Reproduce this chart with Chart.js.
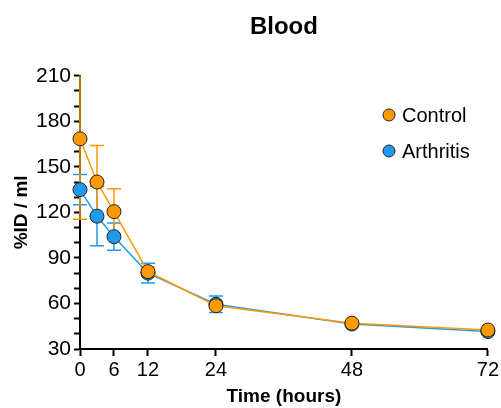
<!DOCTYPE html>
<html>
<head>
<meta charset="utf-8">
<script src="https://cdn.jsdelivr.net/npm/chart.js@4.4.1/dist/chart.umd.min.js"></script>
<style>
  html, body { margin: 0; padding: 0; background: #fff; }
  #wrap { width: 501px; height: 408px; }
</style>
</head>
<body>
<div id="wrap"><canvas id="blood" width="501" height="408"></canvas></div>
<script>
// time points (hours)
const hours = [0, 3, 6, 12, 24, 48, 72];
const xTicks = [0, 6, 12, 24, 48, 72];

// %ID / ml, mean and error (symmetric)
const controlMean = [168.5, 140, 120.5, 81, 58.5, 47, 42.5];
const controlErr  = [53, 24, 15, 3, 2, 1, 1];
const arthritisMean = [135, 117.5, 104, 80, 59.5, 46.5, 41.5];
const arthritisErr  = [10, 19.5, 9, 6.5, 5.5, 1, 1];

const ORANGE = '#FF9900';
const BLUE = '#1E9BF0';
const FONT = "'Liberation Sans', Arial, sans-serif";

const toPts = (ys) => hours.map((h, i) => ({ x: h, y: ys[i] }));

// draws vertical error bars with caps, clipped to the plot area
const errorBars = {
  id: 'errorBars',
  beforeDatasetsDraw(chart) {
    const { ctx, chartArea, scales } = chart;
    ctx.save();
    ctx.beginPath();
    ctx.rect(chartArea.left - 10, chartArea.top, chartArea.width + 20, chartArea.height);
    ctx.clip();
    chart.data.datasets.slice().reverse().forEach(ds => {
      ctx.strokeStyle = ds.borderColor;
      ctx.lineWidth = 1.5;
      ds.data.forEach((p, i) => {
        const e = ds.errors[i];
        const x = scales.x.getPixelForValue(p.x);
        const yTop = scales.y.getPixelForValue(p.y + e);
        const yBot = scales.y.getPixelForValue(p.y - e);
        ctx.beginPath();
        ctx.moveTo(x, yTop); ctx.lineTo(x, yBot);
        ctx.moveTo(x - 7, yTop); ctx.lineTo(x + 7, yTop);
        ctx.moveTo(x - 7, yBot); ctx.lineTo(x + 7, yBot);
        ctx.stroke();
      });
    });
    ctx.restore();
  }
};

// legend inside the plot, top right, stacked
const sideLegend = {
  id: 'sideLegend',
  afterDraw(chart) {
    const { ctx } = chart;
    ctx.save();
    ctx.font = '20px ' + FONT;
    ctx.textBaseline = 'middle';
    chart.data.datasets.forEach((ds, i) => {
      const y = 115 + i * 36;
      ctx.beginPath();
      ctx.arc(389, y, 6, 0, Math.PI * 2);
      ctx.fillStyle = ds.pointBackgroundColor;
      ctx.fill();
      ctx.lineWidth = 1;
      ctx.strokeStyle = '#222';
      ctx.stroke();
      ctx.fillStyle = '#000';
      ctx.fillText(ds.label, 402, y + 1);
    });
    ctx.restore();
  }
};

new Chart(document.getElementById('blood'), {
  type: 'scatter',
  data: {
    datasets: [
      {
        label: 'Control', data: toPts(controlMean), errors: controlErr,
        showLine: true, clip: false, borderColor: ORANGE, borderWidth: 1.5,
        pointBackgroundColor: ORANGE, pointBorderColor: '#222', pointBorderWidth: 1,
        pointRadius: 7, pointHoverRadius: 7,
      },
      {
        label: 'Arthritis', data: toPts(arthritisMean), errors: arthritisErr,
        showLine: true, clip: false, borderColor: BLUE, borderWidth: 1.5,
        pointBackgroundColor: BLUE, pointBorderColor: '#222', pointBorderWidth: 1,
        pointRadius: 7, pointHoverRadius: 7,
      }
    ]
  },
  options: {
    responsive: false, animation: false,
    layout: { padding: { top: 0, right: 12, bottom: 0, left: 0 } },
    plugins: {
      legend: { display: false },
      tooltip: { enabled: false },
      title: {
        display: true, text: 'Blood', fullSize: false, color: '#000',
        font: { family: FONT, size: 24, weight: 'bold', lineHeight: 1.2 },
        padding: { top: 13, bottom: 34 }
      }
    },
    scales: {
      x: {
        type: 'linear', min: 0, max: 72,
        afterBuildTicks: (s) => { s.ticks = xTicks.map(v => ({ value: v })); },
        afterFit: (s) => { s.height = 59; },
        grid: { drawOnChartArea: false, drawTicks: true, tickLength: 7, color: '#000', tickWidth: 2 },
        border: { display: true, color: '#000', width: 2 },
        ticks: { color: '#000', font: { family: FONT, size: 20 }, padding: 2, maxRotation: 0, autoSkip: false },
        title: { display: true, text: 'Time (hours)', color: '#000', font: { family: FONT, size: 19, weight: 'bold' }, padding: { top: 0, bottom: 0 } }
      },
      y: {
        min: 30, max: 210,
        afterFit: (s) => { s.width = 80; },
        grid: { drawOnChartArea: false, drawTicks: true, tickLength: 6, color: '#000', tickWidth: 2 },
        border: { display: true, color: '#000', width: 2 },
        ticks: {
          stepSize: 10, color: '#000', font: { family: FONT, size: 21 }, padding: 3, autoSkip: false,
          callback: (v) => (v % 30 === 0 ? v : '')
        },
        title: { display: true, text: '%ID / ml', color: '#000', font: { family: FONT, size: 19, weight: 'bold' }, padding: { top: 10, bottom: 0 } }
      }
    }
  },
  plugins: [errorBars, sideLegend]
});
</script>
</body>
</html>
